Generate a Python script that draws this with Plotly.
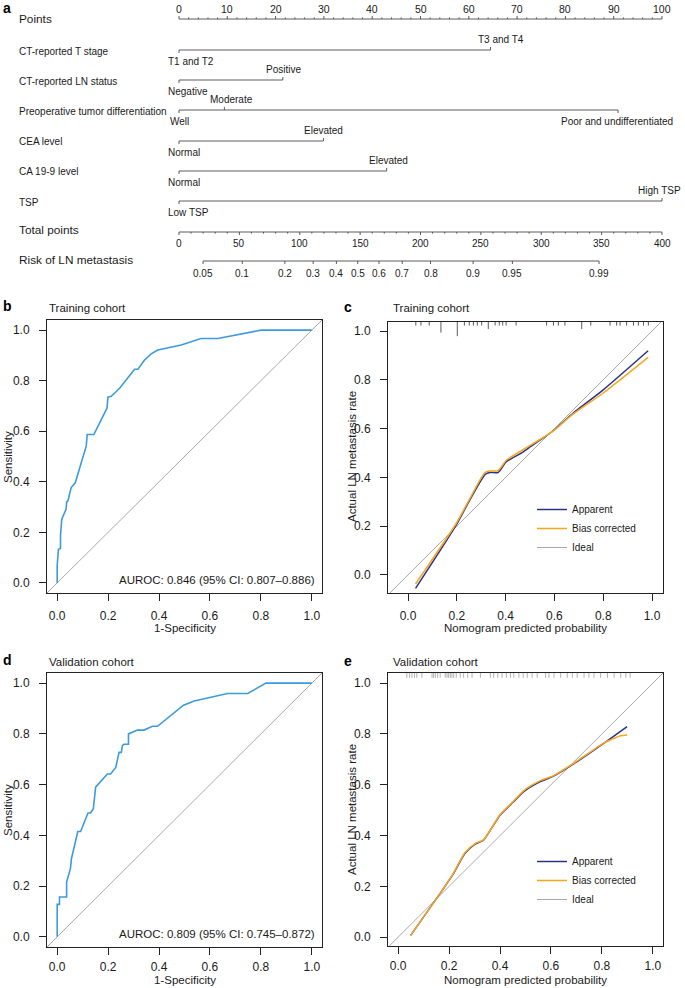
import math
import plotly.graph_objects as go

W, H = 685, 988

# ====================== DATA ======================
# --- Nomogram (panel a) ---
points_ticks = [0, 10, 20, 30, 40, 50, 60, 70, 80, 90, 100]
points_minor = list(range(0, 101, 2))
total_ticks = [0, 50, 100, 150, 200, 250, 300, 350, 400]
total_minor = list(range(0, 401, 10))
risk_ticks = [0.05, 0.1, 0.2, 0.3, 0.4, 0.5, 0.6, 0.7, 0.8, 0.9, 0.95, 0.99]
risk_labels = ["0.05", "0.1", "0.2", "0.3", "0.4", "0.5", "0.6", "0.7", "0.8", "0.9", "0.95", "0.99"]
risk_total_at_half = 148.0   # total points where risk = 0.5
risk_points_per_logit = 43.5  # total points per unit of logit(risk)

var_names = ["CT-reported T stage", "CT-reported LN status",
             "Preoperative tumor differentiation", "CEA level",
             "CA 19-9 level", "TSP"]
var_levels = [["T1 and T2", "T3 and T4"],
              ["Negative", "Positive"],
              ["Well", "Moderate", "Poor and undifferentiated"],
              ["Normal", "Elevated"],
              ["Normal", "Elevated"],
              ["Low TSP", "High TSP"]]
var_points = [[0, 64.5], [0, 21.5], [0, 9.4, 90.9], [0, 29.9], [0, 43.0], [0, 100]]

# --- ROC, training cohort (panel b) ---
roc_train_fpr = [0.000, 0.000, 0.005, 0.013, 0.013, 0.018, 0.029, 0.035, 0.037, 0.042,
                 0.055, 0.071, 0.114, 0.118, 0.144, 0.173, 0.196, 0.199, 0.212, 0.232,
                 0.245, 0.304, 0.317, 0.343, 0.369, 0.395, 0.487, 0.565, 0.631, 0.801, 1.000]
roc_train_tpr = [0.000, 0.070, 0.133, 0.136, 0.186, 0.252, 0.278, 0.291, 0.320, 0.324,
                 0.377, 0.396, 0.541, 0.587, 0.587, 0.646, 0.692, 0.735, 0.738, 0.757,
                 0.770, 0.845, 0.845, 0.882, 0.906, 0.921, 0.941, 0.967, 0.967, 1.000, 1.000]
auroc_train = "AUROC: 0.846 (95% CI: 0.807\u20130.886)"

# --- ROC, validation cohort (panel d) ---
roc_valid_fpr = [0.000, 0.000, 0.009, 0.009, 0.037, 0.037, 0.052, 0.056, 0.081, 0.092,
                 0.121, 0.131, 0.142, 0.151, 0.197, 0.210, 0.230, 0.243, 0.252, 0.256,
                 0.262, 0.280, 0.280, 0.315, 0.341, 0.374, 0.394, 0.496, 0.538, 0.669,
                 0.748, 0.820, 1.000]
roc_valid_tpr = [0.000, 0.128, 0.128, 0.157, 0.157, 0.216, 0.269, 0.308, 0.415, 0.415,
                 0.488, 0.488, 0.505, 0.590, 0.642, 0.642, 0.668, 0.727, 0.727, 0.754,
                 0.759, 0.759, 0.800, 0.815, 0.815, 0.830, 0.830, 0.913, 0.930, 0.959,
                 0.959, 1.000, 1.000]
auroc_valid = "AUROC: 0.809 (95% CI: 0.745\u20130.872)"

# --- Calibration, training cohort (panel c) ---
cal_train_app_x = [0.031, 0.198, 0.253, 0.317, 0.335, 0.369, 0.403, 0.464, 0.492, 0.594, 0.676, 0.799, 0.984]
cal_train_app_y = [-0.055, 0.205, 0.307, 0.413, 0.420, 0.420, 0.464, 0.499, 0.519, 0.590, 0.663, 0.758, 0.919]
cal_train_bc_x = [0.031, 0.198, 0.253, 0.314, 0.335, 0.369, 0.403, 0.464, 0.492, 0.594, 0.676, 0.799, 0.984]
cal_train_bc_y = [-0.037, 0.212, 0.312, 0.419, 0.426, 0.428, 0.470, 0.509, 0.526, 0.590, 0.659, 0.745, 0.892]
rug_train_x = [0.032, 0.053, 0.087, 0.135, 0.202, 0.231, 0.251, 0.268, 0.284, 0.302,
               0.329, 0.357, 0.374, 0.388, 0.402, 0.443, 0.568, 0.596, 0.616, 0.643,
               0.712, 0.749, 0.828, 0.855, 0.869, 0.896, 0.924, 0.944, 0.965, 0.985]
rug_train_n = [1, 1, 1, 3, 4, 1, 1, 1, 1, 1, 2, 1, 1, 1, 1, 1, 1, 1, 1, 1,
               2, 1, 1, 1, 1, 1, 1, 1, 1, 1]

# --- Calibration, validation cohort (panel e) ---
cal_valid_app_x = [0.049, 0.164, 0.217, 0.262, 0.302, 0.335, 0.400, 0.453, 0.492, 0.558, 0.610, 0.689, 0.807, 0.899]
cal_valid_app_y = [0.007, 0.171, 0.250, 0.329, 0.366, 0.382, 0.480, 0.533, 0.572, 0.612, 0.634, 0.682, 0.763, 0.829]
cal_valid_bc_x = [0.049, 0.164, 0.217, 0.262, 0.302, 0.335, 0.400, 0.453, 0.492, 0.558, 0.610, 0.689, 0.807, 0.833, 0.873, 0.899]
cal_valid_bc_y = [0.007, 0.171, 0.252, 0.332, 0.368, 0.383, 0.482, 0.535, 0.576, 0.616, 0.636, 0.684, 0.764, 0.776, 0.793, 0.796]
rug_valid_x = [0.034, 0.045, 0.054, 0.064, 0.073, 0.093, 0.133, 0.139, 0.146, 0.155,
               0.165, 0.185, 0.192, 0.198, 0.205, 0.211, 0.218, 0.228, 0.244, 0.257,
               0.273, 0.290, 0.323, 0.362, 0.375, 0.391, 0.408, 0.425, 0.441, 0.454,
               0.474, 0.491, 0.507, 0.526, 0.546, 0.579, 0.592, 0.612, 0.638, 0.664,
               0.684, 0.703, 0.730, 0.749, 0.769, 0.795, 0.822, 0.848, 0.874, 0.894, 0.911]
rug_valid_n = [1] * len(rug_valid_x)

ideal_extent = [-0.2, 1.2]

# ====================== STYLE / LAYOUT ======================
FONT = "Liberation Sans, Arial, Helvetica, sans-serif"
TXT = "#1a1a1a"
ROC_COL = "#3D9BDC"
APP_COL = "#27348B"
BC_COL = "#F9A51E"
IDEAL_COL = "#A9A9A9"
NOMO_COL = "#4a4a4a"


def px_x(p):
    return p / W


def px_y(p):
    return 1 - p / H


# nomogram geometry (pixels)
NOMO_P0, NOMO_P100 = 179, 662
NOMO_H = 284
points_row_y = 19
var_rows_y = [50, 80, 110, 141, 171, 201]
total_row_y = 232
risk_row_y = 261
lvl_style = [[("left", -13), ("center", 10)],
             [("left", -13), ("center", 1)],
             [("center", 0), ("center", 7), ("center", -1)],
             [("left", -13), ("center", 0)],
             [("left", -13), ("center", 2)],
             [("left", -13), ("right", 21)]]

span = NOMO_P100 - NOMO_P0
nomo_range = [-NOMO_P0 / span * 100, (W - NOMO_P0) / span * 100]

fig = go.Figure()
ann = []

# ---------- Panel a : nomogram ----------
segx, segy = [], []


def seg(x0, y0, x1, y1):
    segx.extend([x0, x1, None])
    segy.extend([y0, y1, None])


# Points axis
seg(points_ticks[0], points_row_y, points_ticks[-1], points_row_y)
for t in points_minor:
    ln = 3.0 if t in points_ticks else 1.6
    seg(t, points_row_y, t, points_row_y - ln)
for t in points_ticks:
    ann.append(dict(x=t, y=points_row_y - 10, xref="x", yref="y", text=str(t),
                    showarrow=False, font=dict(size=10.5, color=TXT, family=FONT)))

# Variables
for i, (name, levels, pts) in enumerate(zip(var_names, var_levels, var_points)):
    yr = var_rows_y[i]
    seg(min(pts), yr, max(pts), yr)
    for j, (lv, p) in enumerate(zip(levels, pts)):
        above = (j % 2 == 1)
        seg(p, yr, p, yr - 3 if above else yr + 3)
        anchor, shift = lvl_style[i][j]
        ann.append(dict(x=p, y=yr - 11 if above else yr + 11, xref="x", yref="y",
                        text=lv, showarrow=False, xanchor=anchor, xshift=shift,
                        font=dict(size=10, color=TXT, family=FONT)))
    ann.append(dict(x=px_x(17), y=px_y(yr + 1), xref="paper", yref="paper",
                    text=name, showarrow=False, xanchor="left", yanchor="middle",
                    font=dict(size=10, color=TXT, family=FONT)))

# Total points axis
t2p = 100.0 / total_ticks[-1]
seg(total_ticks[0] * t2p, total_row_y, total_ticks[-1] * t2p, total_row_y)
for t in total_minor:
    ln = 3.0 if t in total_ticks else 1.6
    seg(t * t2p, total_row_y, t * t2p, total_row_y + ln)
for t in total_ticks:
    ann.append(dict(x=t * t2p, y=total_row_y + 11, xref="x", yref="y", text=str(t),
                    showarrow=False, font=dict(size=10, color=TXT, family=FONT)))

# Risk axis
risk_total = [risk_total_at_half + risk_points_per_logit * math.log(p / (1 - p)) for p in risk_ticks]
seg(risk_total[0] * t2p, risk_row_y, risk_total[-1] * t2p, risk_row_y)
for rt, lab in zip(risk_total, risk_labels):
    seg(rt * t2p, risk_row_y, rt * t2p, risk_row_y + 3)
    ann.append(dict(x=rt * t2p, y=risk_row_y + 12, xref="x", yref="y", text=lab,
                    showarrow=False, font=dict(size=10, color=TXT, family=FONT)))

fig.add_trace(go.Scatter(x=segx, y=segy, mode="lines", xaxis="x", yaxis="y",
                         line=dict(color=NOMO_COL, width=0.9), showlegend=False,
                         hoverinfo="skip"))

for txt, yy in [("Points", points_row_y), ("Total points", total_row_y - 2),
                ("Risk of LN metastasis", risk_row_y - 1)]:
    ann.append(dict(x=px_x(17), y=px_y(yy), xref="paper", yref="paper", text=txt,
                    showarrow=False, xanchor="left", yanchor="middle",
                    font=dict(size=11.8, color=TXT, family=FONT)))

# ---------- Panels b-e ----------
panels = {
    # name: (xaxis id, yaxis id, x px domain, y px domain (top,bottom), xrange, yrange, x label standoff)
    "b": ("x2", "y2", (47, 322), (320, 593), [-0.04, 1.04], [-0.04, 1.04], 5),
    "c": ("x3", "y3", (388, 663), (322, 593), [-0.082, 1.045], [-0.074, 1.037], 5),
    "d": ("x4", "y4", (47, 322), (673, 947), [-0.04, 1.04], [-0.04, 1.04], 2),
    "e": ("x5", "y5", (388, 663), (673, 946), [-0.04, 1.04], [-0.035, 1.04], 2),
}

axis_common = dict(showline=True, mirror=True, linecolor="#222", linewidth=1,
                   ticks="outside", ticklen=7, tickwidth=1, tickcolor="#222",
                   showgrid=False, zeroline=False, tickformat=".1f",
                   tickvals=[0, 0.2, 0.4, 0.6, 0.8, 1.0],
                   tickfont=dict(size=12, color=TXT, family=FONT))

layout_axes = {}
for key, (xa, ya, xd, yd, xr, yr, xso) in panels.items():
    xn = "xaxis" + xa[1:]
    yn = "yaxis" + ya[1:]
    layout_axes[xn] = dict(axis_common, domain=[px_x(xd[0]), px_x(xd[1])], range=xr,
                           anchor=ya, ticklabelstandoff=xso)
    layout_axes[yn] = dict(axis_common, domain=[px_y(yd[1]), px_y(yd[0])], range=yr,
                           anchor=xa, ticklabelstandoff=7)


def add_ideal(xa, ya, legend=None):
    fig.add_trace(go.Scatter(x=ideal_extent, y=ideal_extent, mode="lines",
                             line=dict(color=IDEAL_COL, width=1), xaxis=xa, yaxis=ya,
                             name="Ideal", showlegend=legend is not None,
                             legend=legend or "legend", legendrank=3, hoverinfo="skip"))


# ROC panels
for key, fpr, tpr, auc in [("b", roc_train_fpr, roc_train_tpr, auroc_train),
                           ("d", roc_valid_fpr, roc_valid_tpr, auroc_valid)]:
    xa, ya = panels[key][0], panels[key][1]
    add_ideal(xa, ya)
    fig.add_trace(go.Scatter(x=fpr, y=tpr, mode="lines", xaxis=xa, yaxis=ya,
                             line=dict(color=ROC_COL, width=1.6), showlegend=False))
    ann.append(dict(x=1.022, y=0.012, xref=xa, yref=ya, text=auc, showarrow=False,
                    xanchor="right", yanchor="middle",
                    font=dict(size=11.5, color=TXT, family=FONT)))

# Calibration panels
for key, ax_, ay_, bx_, by_, rx, rn, rcol, rwid, rstep, leg in [
        ("c", cal_train_app_x, cal_train_app_y, cal_train_bc_x, cal_train_bc_y,
         rug_train_x, rug_train_n, "#5a5a5a", 1.0, 0.0145, "legend"),
        ("e", cal_valid_app_x, cal_valid_app_y, cal_valid_bc_x, cal_valid_bc_y,
         rug_valid_x, rug_valid_n, "#a0a0a0", 0.8, 0.019, "legend2")]:
    xa, ya = panels[key][0], panels[key][1]
    ytop = panels[key][5][1]
    add_ideal(xa, ya, legend=leg)
    fig.add_trace(go.Scatter(x=ax_, y=ay_, mode="lines", xaxis=xa, yaxis=ya,
                             line=dict(color=APP_COL, width=1.5, shape="spline", smoothing=0.6),
                             name="Apparent", legend=leg, legendrank=1))
    fig.add_trace(go.Scatter(x=bx_, y=by_, mode="lines", xaxis=xa, yaxis=ya,
                             line=dict(color=BC_COL, width=1.5, shape="spline", smoothing=0.6),
                             name="Bias corrected", legend=leg, legendrank=2))
    rxs, rys = [], []
    for x, n in zip(rx, rn):
        rxs.extend([x, x, None])
        rys.extend([ytop, ytop - n * rstep, None])
    fig.add_trace(go.Scatter(x=rxs, y=rys, mode="lines", xaxis=xa, yaxis=ya,
                             line=dict(color=rcol, width=rwid), showlegend=False,
                             hoverinfo="skip"))

# Panel letters, titles, axis titles
for letter, x, y in [("a", 1, 8), ("b", 1, 306), ("c", 342, 307), ("d", 1, 660), ("e", 342, 661)]:
    ann.append(dict(x=px_x(x), y=px_y(y), xref="paper", yref="paper", text="<b>%s</b>" % letter,
                    showarrow=False, xanchor="left", yanchor="middle",
                    font=dict(size=14, color="#000", family=FONT)))

for txt, x, y in [("Training cohort", 47, 308), ("Training cohort", 391, 308),
                  ("Validation cohort", 47, 662), ("Validation cohort", 391, 662)]:
    ann.append(dict(x=px_x(x), y=px_y(y), xref="paper", yref="paper", text=txt,
                    showarrow=False, xanchor="left", yanchor="middle",
                    font=dict(size=11.5, color=TXT, family=FONT)))

for txt, x, y, ya_ in [("1-Specificity", 184.5, 628, "middle"), ("1-Specificity", 184.5, 988, "bottom"),
                       ("Nomogram predicted probability", 525.5, 628, "middle"),
                       ("Nomogram predicted probability", 525.5, 988, "bottom")]:
    ann.append(dict(x=px_x(x), y=px_y(y), xref="paper", yref="paper", text=txt,
                    showarrow=False, xanchor="center", yanchor=ya_,
                    font=dict(size=11.5, color=TXT, family=FONT)))

for txt, x, y in [("Sensitivity", 8, 457), ("Sensitivity", 8, 810),
                  ("Actual LN metastasis rate", 352, 457),
                  ("Actual LN metastasis rate", 352, 810)]:
    ann.append(dict(x=px_x(x), y=px_y(y), xref="paper", yref="paper", text=txt,
                    showarrow=False, xanchor="center", yanchor="middle", textangle=-90,
                    font=dict(size=11.5, color=TXT, family=FONT)))

legend_common = dict(xanchor="left", yanchor="top", bgcolor="rgba(0,0,0,0)",
                     borderwidth=0, tracegroupgap=0, itemwidth=30,
                     font=dict(size=10, color=TXT, family=FONT))

fig.update_layout(
    width=W, height=H,
    margin=dict(l=0, r=0, t=0, b=0),
    paper_bgcolor="white", plot_bgcolor="white",
    font=dict(family=FONT, color=TXT),
    xaxis=dict(domain=[0, 1], range=nomo_range, visible=False, anchor="y"),
    yaxis=dict(domain=[px_y(NOMO_H), 1], range=[NOMO_H, 0], visible=False, anchor="x"),
    legend=dict(legend_common, x=px_x(532), y=px_y(495)),
    legend2=dict(legend_common, x=px_x(532), y=px_y(847)),
    annotations=ann,
    **layout_axes,
)

fig.write_html(
    "out.html",
    config={"displayModeBar": False},
    post_script="document.documentElement.style.margin='0';document.body.style.margin='0';"
                "document.body.style.padding='0';document.body.style.overflow='hidden';",
)
